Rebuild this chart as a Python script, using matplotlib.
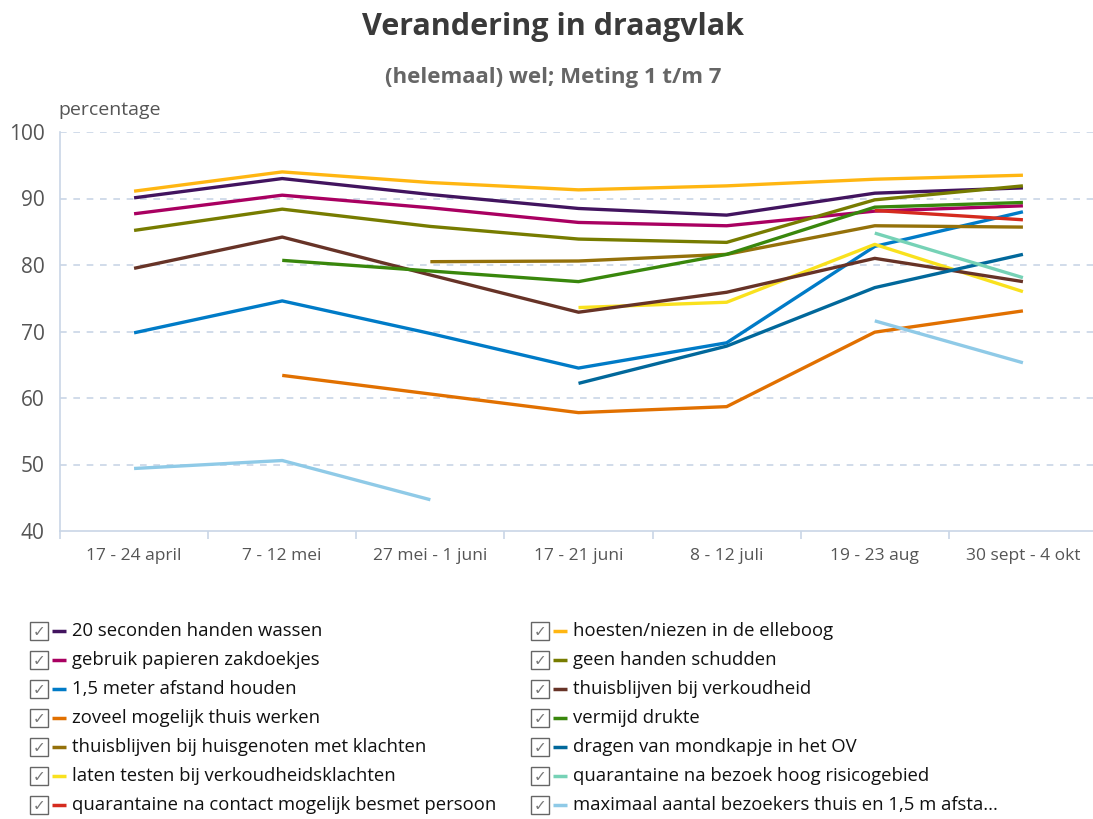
import numpy as np
import matplotlib
matplotlib.use("Agg")
import matplotlib.pyplot as plt
from matplotlib import font_manager
from matplotlib.patches import Rectangle

# pick a narrow-ish sans if present
available = {f.name for f in font_manager.fontManager.ttflist}
family = next((f for f in ['Liberation Sans Narrow', 'Open Sans', 'Noto Sans'] if f in available), 'DejaVu Sans')
plt.rcParams['font.family'] = [family, 'DejaVu Sans']

nan = np.nan

periods = ['17 - 24 april', '7 - 12 mei', '27 mei - 1 juni', '17 - 21 juni',
           '8 - 12 juli', '19 - 23 aug', '30 sept - 4 okt']

# series values (percentage, helemaal wel)
handen_wassen = [90.1, 93.0, 90.6, 88.5, 87.5, 90.8, 91.6]
zakdoekjes = [87.7, 90.5, 88.6, 86.4, 85.9, 88.1, 88.9]
afstand = [69.8, 74.6, 69.7, 64.5, 68.3, 82.8, 88.0]
thuis_werken = [nan, 63.4, 60.6, 57.8, 58.7, 69.9, 73.1]
huisgenoten = [nan, nan, 80.5, 80.6, 81.6, 85.9, 85.7]
laten_testen = [nan, nan, nan, 73.6, 74.4, 83.1, 76.0]
quar_contact = [nan, nan, nan, nan, nan, 88.2, 86.8]
hoesten = [91.1, 94.0, 92.4, 91.3, 91.9, 92.9, 93.5]
geen_handen = [85.2, 88.4, 85.8, 83.9, 83.4, 89.8, 91.9]
verkoudheid = [79.5, 84.2, 78.5, 72.9, 75.9, 81.0, 77.5]
drukte = [nan, 80.7, 79.1, 77.5, 81.6, 88.7, 89.4]
mondkapje = [nan, nan, nan, 62.2, 67.8, 76.6, 81.6]
quar_bezoek = [nan, nan, nan, nan, nan, 84.8, 78.1]
bezoekers = [49.4, 50.6, 44.7, nan, nan, 71.6, 65.3]

labels = ['20 seconden handen wassen', 'gebruik papieren zakdoekjes',
          '1,5 meter afstand houden', 'zoveel mogelijk thuis werken',
          'thuisblijven bij huisgenoten met klachten',
          'laten testen bij verkoudheidsklachten',
          'quarantaine na contact mogelijk besmet persoon',
          'hoesten/niezen in de elleboog', 'geen handen schudden',
          'thuisblijven bij verkoudheid', 'vermijd drukte',
          'dragen van mondkapje in het OV',
          'quarantaine na bezoek hoog risicogebied',
          'maximaal aantal bezoekers thuis en 1,5 m afsta...']
series = [handen_wassen, zakdoekjes, afstand, thuis_werken, huisgenoten,
          laten_testen, quar_contact, hoesten, geen_handen, verkoudheid,
          drukte, mondkapje, quar_bezoek, bezoekers]
colors = ['#42145f', '#a90061', '#007bc7', '#e17000', '#94710a', '#f9e11e',
          '#d52b1e', '#ffb612', '#777c00', '#673327', '#39870c', '#01689b',
          '#76d2b6', '#8fcae7']

W, H = 1093, 819
fig = plt.figure(figsize=(W / 100, H / 100), dpi=100)
ax = fig.add_axes([60 / W, 288 / H, 1037 / W, 399 / H])

x = np.arange(len(periods))
for vals, col in zip(series, colors):
    ax.plot(x, vals, color=col, linewidth=2.4, solid_capstyle='butt')

grid_col = '#c9d6e6'
ax.set_xlim(-0.5, 6.5)
ax.set_ylim(40, 100)
ax.set_yticks(range(40, 101, 10))
for v in range(50, 101, 10):
    ax.axhline(v, color=grid_col, linestyle=(0, (4, 4)), linewidth=1.2, zorder=0)
ax.set_xticks(x)
ax.set_xticklabels(periods)
ax.set_xticks(np.arange(-0.5, 6.6, 1), minor=True)
ax.tick_params(axis='x', which='major', length=0, pad=12, labelsize=12.5, labelcolor='#555555')
ax.tick_params(axis='x', which='minor', length=6, color=grid_col, width=1.2)
ax.tick_params(axis='y', length=0, pad=11, labelsize=15, labelcolor='#555555')
for s in ['top', 'right']:
    ax.spines[s].set_visible(False)
for s in ['left', 'bottom']:
    ax.spines[s].set_color(grid_col)
    ax.spines[s].set_linewidth(1.2)

fig.text(553 / W, 1 - 27 / H, 'Verandering in draagvlak', ha='center', va='center',
         fontsize=22, fontweight='bold', color='#3a3a3a')
fig.text(553 / W, 1 - 77 / H, '(helemaal) wel; Meting 1 t/m 7', ha='center', va='center',
         fontsize=16, fontweight='bold', color='#666666')
fig.text(58 / W, 1 - 110 / H, 'percentage', ha='left', va='center',
         fontsize=14, color='#555555')

# legend in pixel coordinates
lg = fig.add_axes([0, 0, 1, 1])
lg.set_xlim(0, W)
lg.set_ylim(H, 0)
lg.axis('off')
n_rows = 7
for i, (lab, col) in enumerate(zip(labels, colors)):
    c, r = divmod(i, n_rows)
    x0 = 30 if c == 0 else 531
    yc = 631 + r * 29
    lg.add_patch(Rectangle((x0, yc - 9), 18, 18, fill=False, edgecolor='#666666', linewidth=1))
    lg.text(x0 + 9, yc + 1, '\u2713', ha='center', va='center', fontsize=11,
            color='#777777', family='DejaVu Sans')
    lg.plot([x0 + 22, x0 + 36], [yc, yc], color=col, linewidth=2.5, solid_capstyle='butt')
    lg.text(x0 + 42, yc, lab, ha='left', va='center', fontsize=13.3, color='#111111')

fig.savefig('out.png', dpi=100)
